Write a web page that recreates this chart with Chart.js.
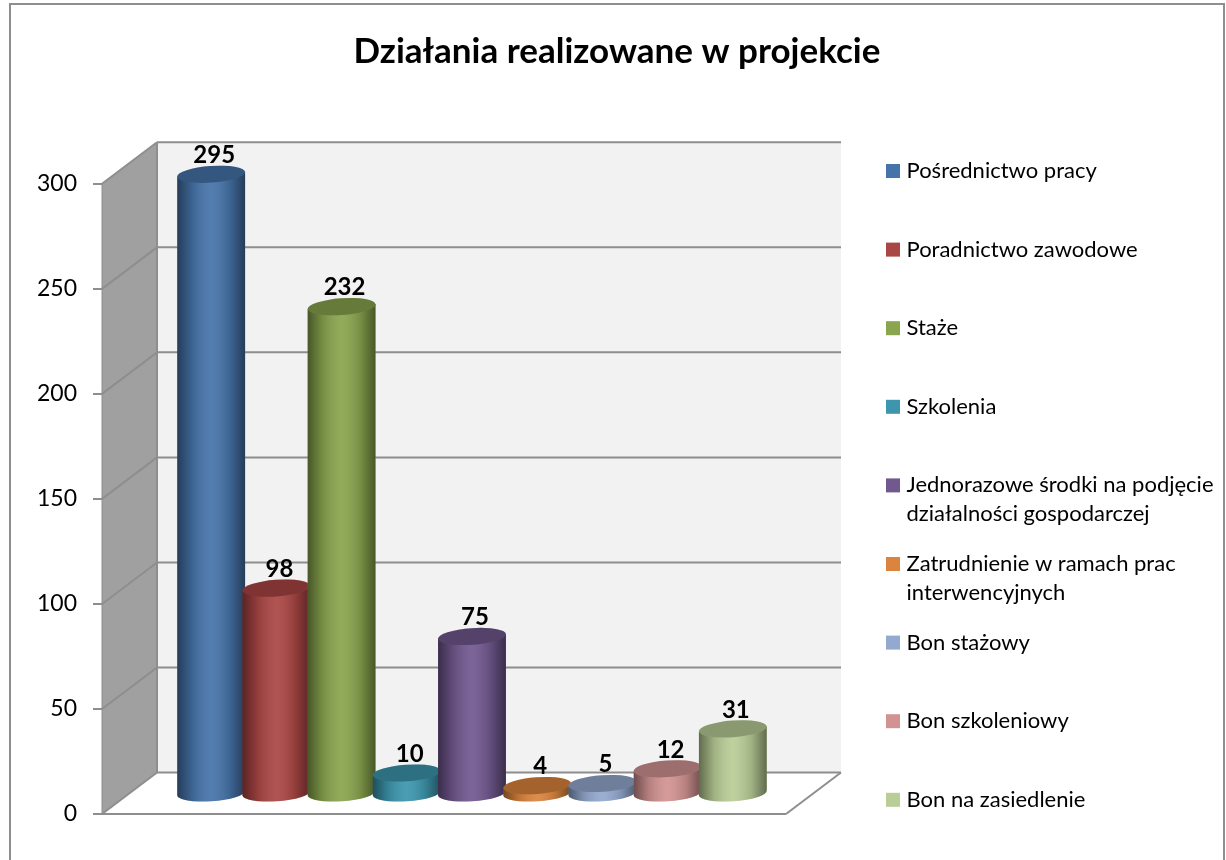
<!DOCTYPE html>
<html lang="pl">
<head>
<meta charset="utf-8">
<title>Działania realizowane w projekcie</title>
<script src="https://cdn.jsdelivr.net/npm/chart.js@4"></script>
<style>
    html, body { margin: 0; background: #fff; overflow: hidden; }
    #frame { position: absolute; left: 9px; top: 3px; width: 1212px; height: 900px; border: 2px solid #8e8e8e; border-bottom: none; }
    canvas { position: absolute; left: 0; top: 0; }
</style>
</head>
<body>
<div id="frame"></div>
<canvas id="chart" width="1226" height="860"></canvas>
<script>
const chartTitle = "Działania realizowane w projekcie";
const categories = ["Działania"];
const seriesNames = [
    "Pośrednictwo pracy",
    "Poradnictwo zawodowe",
    "Staże",
    "Szkolenia",
    "Jednorazowe środki na podjęcie działalności gospodarczej",
    "Zatrudnienie w ramach prac interwencyjnych",
    "Bon stażowy",
    "Bon szkoleniowy",
    "Bon na zasiedlenie"
];
const seriesValues = [295, 98, 232, 10, 75, 4, 5, 12, 31];
const seriesColors = ["#4674aa", "#aa4644", "#89a54e", "#3d96ae", "#71588f", "#db843d", "#93a9cf", "#d19392", "#b9cd96"];
const yTicks = [0, 50, 100, 150, 200, 250, 300];

// wall depth of the fake 3D box and where the cylinders stand in it
const depthX = 55, depthY = -41.5;
const barShiftX = 28, barShiftY = -20;
const tilt = -0.07;
const capRy = 8.3;

const lineColor = "#8e8e8e";
const textFont = "Lato";

function line(ctx, x1, y1, x2, y2) {
    ctx.beginPath();
    ctx.moveTo(x1, y1);
    ctx.lineTo(x2, y2);
    ctx.stroke();
}

function polygon(ctx, points, color) {
    ctx.beginPath();
    points.forEach((p, i) => i ? ctx.lineTo(p[0], p[1]) : ctx.moveTo(p[0], p[1]));
    ctx.closePath();
    ctx.fillStyle = color;
    ctx.fill();
}

// back wall, side wall, floor
const wallsPlugin = {
    id: "walls",
    beforeDraw(chart) {
        const ctx = chart.ctx;
        const { left, right, top, bottom } = chart.chartArea;
        const bx = left + depthX, tx = right + depthX;
        ctx.save();
        polygon(ctx, [[bx, top + depthY], [tx, top + depthY], [tx, bottom + depthY], [bx, bottom + depthY]], "#f2f2f2");
        polygon(ctx, [[left, top], [bx, top + depthY], [bx, bottom + depthY], [left, bottom]], "#a0a0a0");
        polygon(ctx, [[left, bottom], [bx, bottom + depthY], [tx, bottom + depthY], [right, bottom]], "#ffffff");
        ctx.strokeStyle = lineColor;
        ctx.lineWidth = 2;
        chart.scales.y.ticks.forEach(t => {
            const y = chart.scales.y.getPixelForValue(t.value);
            line(ctx, left, y, bx, y + depthY);
            line(ctx, bx, y + depthY, tx, y + depthY);
        });
        line(ctx, left, bottom, right, bottom);
        line(ctx, right, bottom, tx, bottom + depthY);
        line(ctx, bx, top + depthY, bx, bottom + depthY);
        ctx.lineWidth = 1;
        line(ctx, left, top, left, bottom);
        ctx.restore();
    }
};

function drawCylinder(ctx, bar, color) {
    const cx = bar.x + barShiftX;
    const topY = bar.y + barShiftY, baseY = bar.base + barShiftY;
    const rx = bar.width / 2;
    const sx = rx * Math.cos(tilt), sy = rx * Math.sin(tilt);

    const body = () => {
        ctx.beginPath();
        ctx.moveTo(cx - sx, topY - sy);
        ctx.lineTo(cx - sx, baseY - sy);
        ctx.ellipse(cx, baseY, rx, capRy, tilt, Math.PI, 0, true);
        ctx.lineTo(cx + sx, topY + sy);
        ctx.closePath();
    };
    const shade = ctx.createLinearGradient(cx - rx, 0, cx + rx, 0);
    shade.addColorStop(0, "rgba(0,0,0,0.48)");
    shade.addColorStop(0.22, "rgba(0,0,0,0.14)");
    shade.addColorStop(0.5, "rgba(255,255,255,0.07)");
    shade.addColorStop(0.78, "rgba(0,0,0,0.14)");
    shade.addColorStop(1, "rgba(0,0,0,0.48)");

    body();
    ctx.fillStyle = color;
    ctx.fill();
    body();
    ctx.fillStyle = shade;
    ctx.fill();

    ctx.beginPath();
    ctx.ellipse(cx, topY, rx, capRy, tilt, 0, Math.PI * 2);
    ctx.fillStyle = color;
    ctx.fill();
    ctx.fillStyle = "rgba(0,0,0,0.25)";
    ctx.fill();
}

// Chart.js paints the last dataset first, here the later cylinder has to be on top
const cylindersPlugin = {
    id: "cylinders",
    beforeDatasetDraw() {
        return false;
    },
    afterDatasetsDraw(chart) {
        const ctx = chart.ctx;
        ctx.save();
        chart.data.datasets.forEach((ds, i) => {
            drawCylinder(ctx, chart.getDatasetMeta(i).data[0], ds.backgroundColor);
        });
        ctx.fillStyle = "#000";
        ctx.font = "bold 24px " + textFont;
        ctx.textAlign = "center";
        ctx.textBaseline = "middle";
        chart.data.datasets.forEach((ds, i) => {
            const bar = chart.getDatasetMeta(i).data[0];
            ctx.fillText(String(ds.data[0]), bar.x + barShiftX + 3, bar.y + barShiftY - 19);
        });
        ctx.restore();
    }
};

// legend with the wrapping and the even row step of the original
const legendPlugin = {
    id: "sideLegend",
    afterDraw(chart) {
        const ctx = chart.ctx;
        const maxWidth = 318;
        ctx.save();
        ctx.font = "22px " + textFont;
        ctx.textBaseline = "middle";
        ctx.textAlign = "left";
        chart.data.datasets.forEach((ds, i) => {
            const y = 171 + i * 78.6;
            ctx.fillStyle = ds.backgroundColor;
            ctx.fillRect(886, y - 7, 14, 14);
            ctx.fillStyle = "#000";
            let rowY = y, row = "";
            ds.label.split(" ").forEach(word => {
                const next = row ? row + " " + word : word;
                if (ctx.measureText(next).width > maxWidth) {
                    ctx.fillText(row, 906.5, rowY);
                    rowY += 29;
                    row = word;
                } else {
                    row = next;
                }
            });
            ctx.fillText(row, 906.5, rowY);
        });
        ctx.restore();
    }
};

new Chart(document.getElementById("chart"), {
    type: "bar",
    data: {
        labels: categories,
        datasets: seriesNames.map((name, i) => ({
            label: name,
            data: [seriesValues[i]],
            backgroundColor: seriesColors[i],
            clip: false
        }))
    },
    plugins: [wallsPlugin, cylindersPlugin, legendPlugin],
    options: {
        responsive: false,
        animation: false,
        layout: { padding: { left: 8 } },
        datasets: { bar: { categoryPercentage: 0.858, barPercentage: 1.043 } },
        plugins: {
            legend: { display: false },
            tooltip: { enabled: false },
            title: {
                display: true,
                text: chartTitle,
                color: "#000",
                font: { family: textFont, size: 35, weight: "bold", lineHeight: 1.2 },
                padding: { top: 31, bottom: 110.8 }
            }
        },
        scales: {
            x: {
                ticks: { display: false },
                grid: { display: false },
                border: { display: false },
                afterFit: s => { s.height = 46; }
            },
            y: {
                min: 0,
                max: 300,
                afterFit: s => { s.width = 94; },
                afterBuildTicks: s => { s.ticks = yTicks.map(v => ({ value: v })); },
                border: { display: false },
                grid: { drawOnChartArea: false, tickLength: 9, tickColor: lineColor, lineWidth: 2 },
                ticks: { color: "#000", padding: 16, font: { family: textFont, size: 23 } }
            },
            // empty axis, keeps the room for the legend on the right
            legendRoom: {
                position: "right",
                ticks: { display: false },
                grid: { display: false },
                border: { display: false },
                afterFit: s => { s.width = 440; }
            }
        }
    }
});
</script>
</body>
</html>
